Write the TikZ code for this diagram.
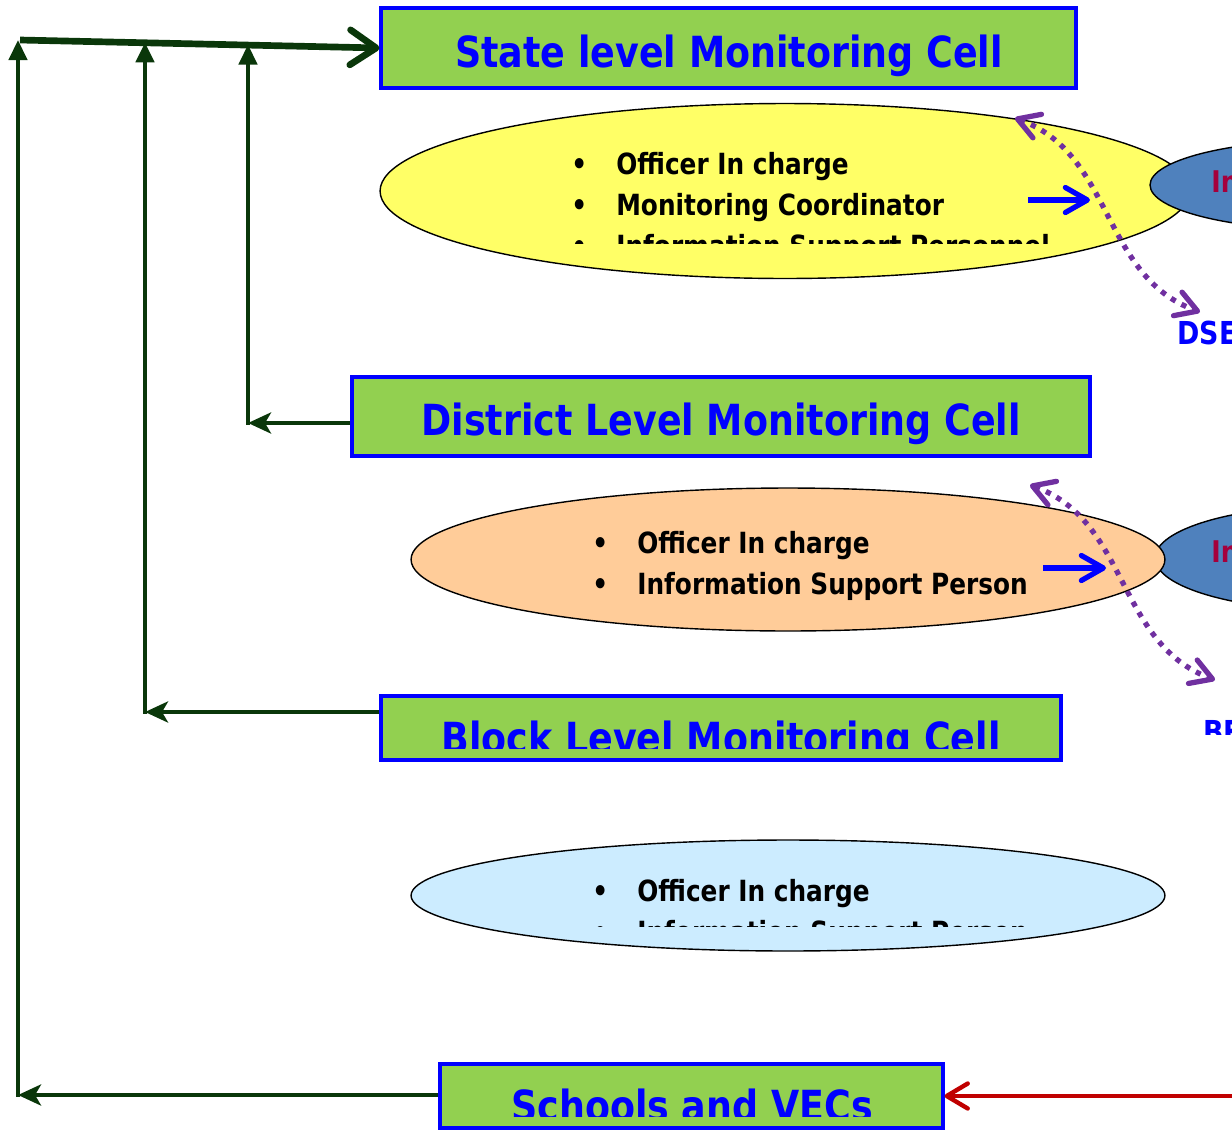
\documentclass[tikz,border=0pt]{standalone}
\usepackage{fontspec}
\setmainfont{DejaVu Sans}[FakeStretch=0.85]
\usepackage{xcolor}
\usepackage{tikz}
\usetikzlibrary{shapes.geometric, arrows.meta, positioning}

\definecolor{cellgreen}{RGB}{146,208,80}
\definecolor{cellblue}{RGB}{0,0,255}
\definecolor{stategold}{RGB}{255,255,102}
\definecolor{districtpeach}{RGB}{255,204,153}
\definecolor{blocksky}{RGB}{204,236,255}
\definecolor{infoblue}{RGB}{79,129,189}
\definecolor{infored}{RGB}{165,0,60}
\definecolor{linkpurple}{RGB}{112,48,160}
\definecolor{fbgreen}{RGB}{10,55,10}
\definecolor{inred}{RGB}{192,0,0}

\newcommand{\titlefont}{\fontsize{24.4}{29}\selectfont\bfseries}
\newcommand{\itemfont}{\fontsize{16.6}{23.3}\selectfont\bfseries}
\newcommand{\sidefont}{\fontsize{18}{22}\selectfont\bfseries}
\newcommand{\infofont}{\fontsize{17}{20}\selectfont\bfseries}
\newcommand{\staffbullet}{\makebox[0.9cm][l]{\textbullet}}

\begin{document}
\begin{tikzpicture}[
    x=0.02cm, y=-0.02cm,
    cellbox/.style={rectangle, draw=cellblue, line width=1.8pt, fill=cellgreen, inner sep=0pt},
    celltext/.style={font=\titlefont, text=cellblue, inner sep=0pt, anchor=base},
    staff/.style={ellipse, draw=black, line width=0.8pt, inner sep=0pt},
    info/.style={ellipse, draw=black, line width=0.8pt, fill=infoblue, minimum width=7.2cm, inner sep=0pt},
    infolabel/.style={font=\infofont, text=infored, inner sep=0pt, anchor=base west},
    sidelabel/.style={font=\sidefont, text=cellblue, inner sep=0pt, anchor=base west},
    item/.style={font=\itemfont, inner sep=0pt, anchor=base west},
    feed/.style={draw=cellblue, line width=3pt, -{Straight Barb[length=0.44cm, width=0.5cm, round]}},
    link/.style={draw=linkpurple, line width=3pt, dash pattern=on 3pt off 3.8pt,
        {Straight Barb[length=0.42cm, width=0.5cm, round]}-{Straight Barb[length=0.42cm, width=0.5cm, round]}},
    report/.style={draw=fbgreen, line width=2.6pt, -{Stealth[length=0.46cm, width=0.42cm, inset=0.12cm]}},
    climb/.style={draw=fbgreen, line width=2.6pt, line cap=rect, -{Triangle[length=0.4cm, width=0.36cm]}},
    topline/.style={draw=fbgreen, line width=3.8pt, -{Straight Barb[length=0.52cm, width=0.7cm, round]}},
    intake/.style={draw=inred, line width=2.5pt, -{Straight Barb[length=0.42cm, width=0.5cm, round]}}
]
\useasboundingbox (0,0) rectangle (1232,1130);

% monitoring cells
\node (state) [cellbox, minimum width=13.9cm, minimum height=1.6cm] at (728.5,48) {};
\node (district) [cellbox, minimum width=14.76cm, minimum height=1.58cm] at (721,416.5) {};
\node (block) [cellbox, minimum width=13.6cm, minimum height=1.28cm] at (721,728) {};
\node (schools) [cellbox, minimum width=10.06cm, minimum height=1.28cm] at (691.5,1096) {};

\node (stateLabel) [celltext] at (729,67) {State level Monitoring Cell};
\node (districtLabel) [celltext] at (721,435) {District Level Monitoring Cell};
\begin{scope}
    \clip (381,696) rectangle (1061,748);
    \node (blockLabel) [celltext] at (721,753) {Block Level Monitoring Cell};
\end{scope}
\begin{scope}
    \clip (440,1064) rectangle (943,1116);
    \node (schoolsLabel) [celltext] at (692,1121) {Schools and VECs};
\end{scope}

% state level staff
\node (stateStaff) [staff, fill=stategold, minimum width=16.2cm, minimum height=3.5cm] at (785,191) {};
\node (stateInfo) [info, minimum height=1.8cm] at (1330,185) {};
\node (stateInfoLabel) [infolabel] at (1211,192) {In};
\node (stateOfficer) [item] at (571,174) {\staffbullet Officer In charge};
\node (stateCoord) [item] at (571,215) {\staffbullet Monitoring Coordinator};
\begin{scope}
    \clip (560,225) rectangle (1100,243);
    \node (stateSupport) [item] at (571,256) {\staffbullet Information Support Personnel};
\end{scope}
\coordinate (stateFrom) at (1028,200);
\coordinate (stateTo) at (1090,200);
\draw [feed] (stateFrom) -- (stateTo);
\coordinate (dseA) at (1015,118);
\coordinate (dseB) at (1200,312);
\draw [link] (dseA) .. controls (1114,154) and (1101,276) .. (dseB);
\node (dse) [sidelabel] at (1177,344) {DSE};

% district level staff
\node (districtInfo) [info, minimum height=2.1cm] at (1335,558) {};
\node (districtStaff) [staff, fill=districtpeach, minimum width=15.08cm, minimum height=2.86cm] at (788,559.5) {};
\node (districtInfoLabel) [infolabel] at (1211,562) {In};
\node (districtOfficer) [item] at (592,553) {\staffbullet Officer In charge};
\node (districtSupport) [item] at (592,594) {\staffbullet Information Support Person};
\coordinate (districtFrom) at (1043,568);
\coordinate (districtTo) at (1106,568);
\draw [feed] (districtFrom) -- (districtTo);
\coordinate (beA) at (1030,485);
\coordinate (beB) at (1215,680);
\draw [link] (beA) .. controls (1129,521) and (1116,643) .. (beB);
\begin{scope}
    \clip (1190,700) rectangle (1232,734);
    \node (beo) [sidelabel] at (1203,743) {BE};
\end{scope}

% block level staff
\node (blockStaff) [staff, fill=blocksky, minimum width=15.08cm, minimum height=2.22cm] at (788,895.5) {};
\node (blockOfficer) [item] at (592,901) {\staffbullet Officer In charge};
\begin{scope}
    \clip (560,905) rectangle (1100,926);
    \node (blockSupport) [item] at (592,942) {\staffbullet Information Support Person};
\end{scope}

% reporting lines back to the state cell
\coordinate (topStart) at (20,40);
\coordinate (districtTurn) at (248,423);
\coordinate (districtTop) at (248,44.5);
\coordinate (blockTurn) at (145,712);
\coordinate (blockTop) at (145,42.4);
\coordinate (schoolsTurn) at (18,1095);
\coordinate (schoolsTop) at (18,40);

\draw [report] (district.west |- districtTurn) -- (districtTurn);
\draw [report] (block.west |- blockTurn) -- (blockTurn);
\draw [report] (schools.west |- schoolsTurn) -- (schoolsTurn);
\draw [climb] (districtTurn) -- (districtTop);
\draw [climb] (blockTurn) -- (blockTop);
\draw [climb] (schoolsTurn) -- (schoolsTop);
\draw [topline] (topStart) -- (state.west);

\coordinate (redStart) at (1240,1096);
\draw [intake] (redStart) -- (schools.east);

\end{tikzpicture}
\end{document}
